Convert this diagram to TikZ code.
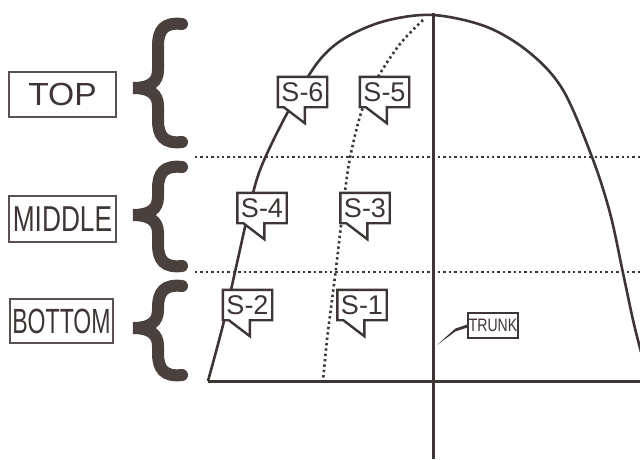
\documentclass[tikz,border=0pt]{standalone}
\usepackage{fontspec}
\setmainfont{Liberation Sans}
\usetikzlibrary{calc}
\definecolor{ink}{HTML}{3E3634}
\definecolor{braceink}{HTML}{4A403D}
\definecolor{boxink}{HTML}{5A5250}
\tikzset{
  crown/.style={ink, line width=2.6pt, line join=round},
  dotline/.style={ink, line width=2.6pt, dash pattern=on 2.4pt off 3pt},
  slabel/.style={fill=white, inner sep=0pt, minimum width=49pt, minimum height=30pt, text=ink,
     font=\fontsize{27}{27}\selectfont},
  sborder/.style={ink, line width=2.4pt, line join=miter},
  zonebox/.style={draw=boxink, line width=1.3pt, inner sep=0pt, text=ink},
  bracestroke/.style={braceink, line width=12pt, line cap=round, line join=miter},
}
\newcommand\mycallout[3]{%
  \node[slabel] (#1) at (#2) {#3};
  \fill[white] ($(#1.south west)+(6,0)$) -- ($(#1.south west)+(27,16)$) -- ($(#1.south west)+(27,0)$) -- cycle;
  \draw[sborder] ($(#1.south west)+(6,0)$) -- (#1.south west) -- (#1.north west) -- (#1.north east)
     -- (#1.south east) -- ($(#1.south west)+(27,0)$) -- ($(#1.south west)+(27,16)$) -- cycle;
}
\newcommand\mybrace[3]{%
  \draw[bracestroke] (182,#1+6) .. controls (164,#1+4) and (158,#1+12) .. (158,#1+28)
     -- (158,#2-18) .. controls (158,#2-6) and (150,#2) .. (133,#2)
     .. controls (150,#2) and (158,#2+6) .. (158,#2+18)
     -- (158,#3-28) .. controls (158,#3-12) and (164,#3-4) .. (182,#3-6);
}
\begin{document}
\begin{tikzpicture}[x=1pt,y=-1pt]
\useasboundingbox (0,0) rectangle (640,459);
% horizontal zone lines
\coordinate (m1l) at (195,157); \coordinate (m1r) at (640,157);
\coordinate (m2l) at (195,272); \coordinate (m2r) at (640,272);
\draw[dotline] (m1l) -- (m1r);
\draw[dotline] (m2l) -- (m2r);
% trunk and ground
\coordinate (ttop) at (433,13); \coordinate (tbot) at (433,459);
\coordinate (gl) at (208,381); \coordinate (gr) at (640,381);
\draw[ink, line width=3pt] (ttop) -- (tbot);
\draw[ink, line width=3pt] (gl) -- (gr);
% crown outline
\draw[crown] plot[smooth, tension=0.55] coordinates {
  (208,381) (223,325) (235,272) (253,193) (265,158) (290,108) (318,62) (345,38) (385,21) (433,15)
  (487,27) (530,53) (563,90) (592,157) (610,213) (623,273) (633,320) (641,352)};
% inner dotted boundary
\draw[dotline] plot[smooth, tension=0.55] coordinates {
  (423,20) (400,44) (378,77) (362,110) (350,158) (344,200) (337,260) (332,300) (327,340) (323,381)};
% callouts
\mycallout{s6}{302.5,92}{S-6}
\mycallout{s5}{384.5,92}{S-5}
\mycallout{s4}{262,208}{S-4}
\mycallout{s3}{365,208}{S-3}
\mycallout{s2}{247.5,305}{S-2}
\mycallout{s1}{362,305}{S-1}
% trunk label
\node[draw=ink, line width=1.3pt, fill=white, inner sep=0pt, minimum width=50pt, minimum height=25pt, text=ink,
  font=\fontsize{18}{18}\selectfont] (trunk) at (493,325.5) {\scalebox{0.78}[1]{TRUNK}};
\coordinate (tpt) at (437,345);
\fill[ink] ($(trunk.west)+(0,2)$) -- ($(trunk.west)+(-12,6)$) -- (tpt) -- ($(trunk.west)+(-12,3)$) -- ($(trunk.west)+(0,-1)$) -- cycle;
% zone labels
\node[zonebox, minimum width=107pt, minimum height=45pt, font=\fontsize{32}{32}\selectfont] (top) at (62.5,94.5) {\scalebox{1.05}[1]{TOP}};
\node[zonebox, minimum width=107pt, minimum height=46pt, font=\fontsize{36}{36}\selectfont] (mid) at (62.5,219) {\scalebox{0.73}[1]{MIDDLE}};
\node[zonebox, minimum width=103pt, minimum height=44pt, font=\fontsize{35}{35}\selectfont] (bot) at (61.5,321) {\scalebox{0.66}[1]{BOTTOM}};
% braces
\mybrace{18}{88}{148}
\mybrace{161}{215}{272}
\mybrace{280}{328}{381}
\end{tikzpicture}
\end{document}
